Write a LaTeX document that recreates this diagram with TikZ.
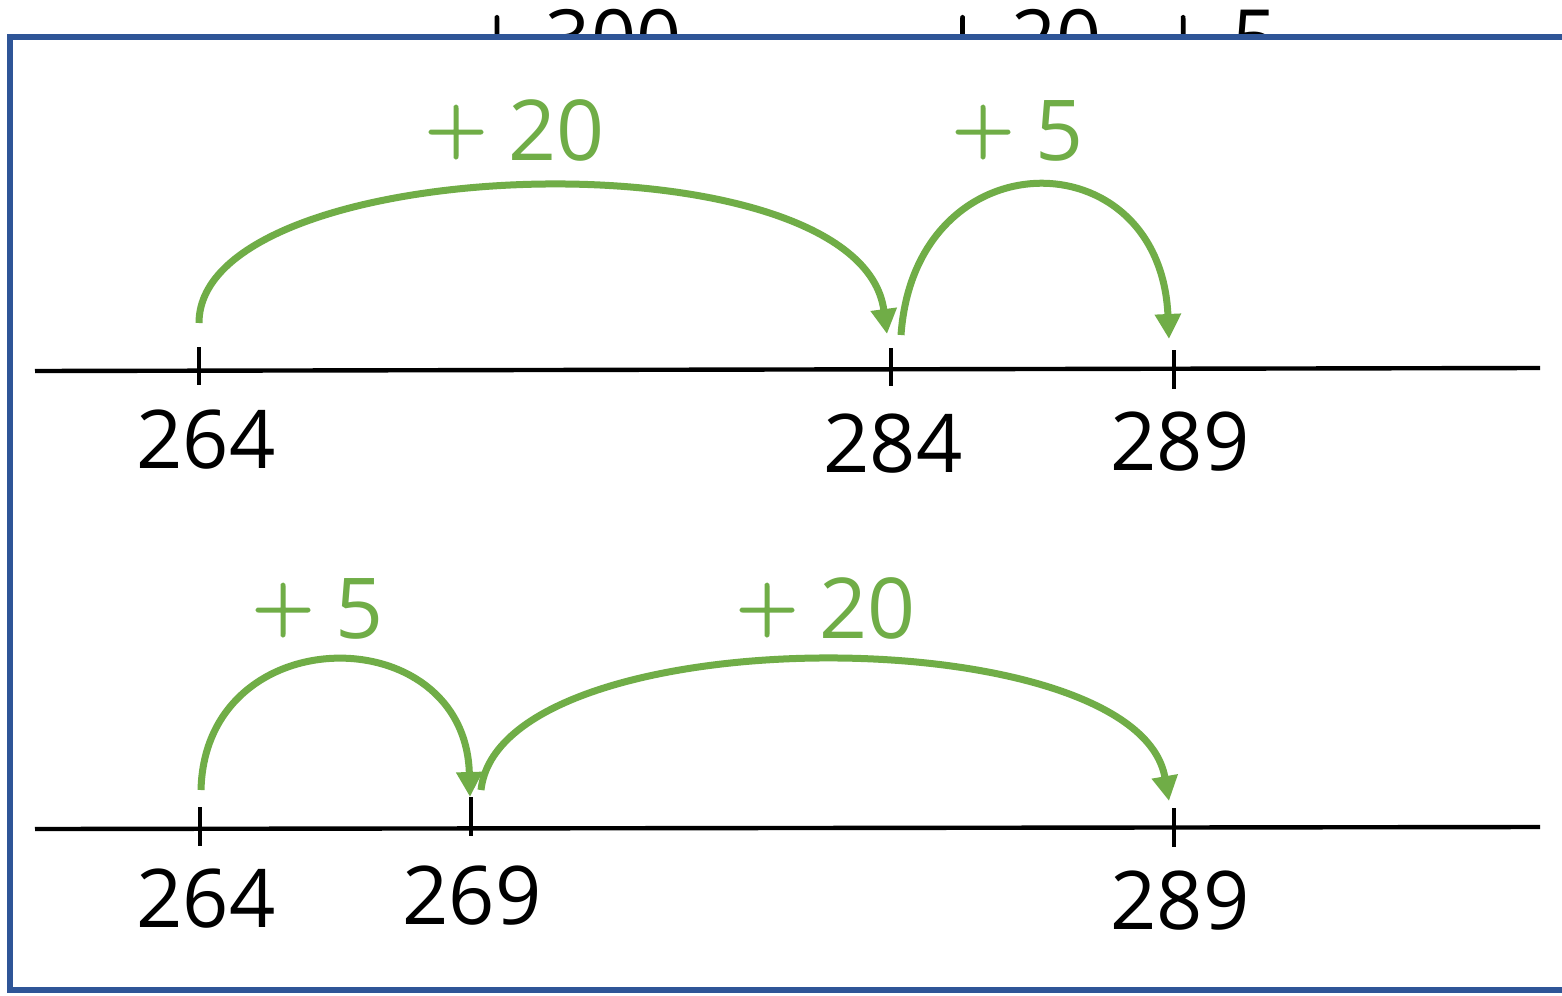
\documentclass[tikz,border=0pt]{standalone}
\usepackage{fontspec}
\setmainfont{Open Sans}
\newfontfamily\lmplusfont[AutoFakeBold=2.5]{Latin Modern Roman}
\usetikzlibrary{arrows.meta}
\definecolor{arcgreen}{HTML}{70AD47}
\definecolor{frameblue}{HTML}{2F5597}
\newcommand{\bigplus}{{\lmplusfont\bfseries\raisebox{0.083em}{+}}}
\begin{document}
\begin{tikzpicture}[x=0.5pt,y=-0.5pt,
  numline/.style={line width=2.2pt,black},
  tickmark/.style={line width=2.2pt,black},
  jump/.style={line width=3.5pt,arcgreen,-{Triangle[length=12.5pt,width=12.5pt]}},
  jumplabel/.style={text=arcgreen,font=\fontsize{42}{50}\selectfont,anchor=base,inner sep=0pt},
  numlabel/.style={font=\fontsize{40.5}{48}\selectfont,anchor=base,inner sep=0pt},
  toplabel/.style={font=\fontsize{39.5}{47}\selectfont,anchor=base,inner sep=0pt},
  frame/.style={frameblue,line width=3.2pt}]
\clip (0,0) rectangle (1562,995);
\fill[white] (0,0) rectangle (1562,995);
% text above the frame, cut off by it as in the reference
\begin{scope}
  \clip (0,0) rectangle (1562,37);
  \node[toplabel] (t300) at (575,67) {\bigplus{} 300};
  \node[toplabel] (t20) at (1018,67) {\bigplus{} 20};
  \node[toplabel] (t5) at (1216,67) {\bigplus{} 5};
\end{scope}
% ---------- upper number line ----------
\coordinate (A1) at (35,371);
\coordinate (A2) at (1540,368);
\draw[numline] (A1) -- (A2);
\coordinate (a264t) at (199,347); \coordinate (a264b) at (199,385);
\coordinate (a284t) at (891,348); \coordinate (a284b) at (891,386);
\coordinate (a289t) at (1174,350); \coordinate (a289b) at (1174,389);
\draw[tickmark] (a264t) -- (a264b);
\draw[tickmark] (a284t) -- (a284b);
\draw[tickmark] (a289t) -- (a289b);
\node[numlabel] (n264a) at (206,468) {264};
\node[numlabel] (n284a) at (893,472) {284};
\node[numlabel] (n289a) at (1180,470) {289};
\coordinate (s1) at (199,323); \coordinate (e1) at (887,334);
\coordinate (s2) at (901,335); \coordinate (e2) at (1169,339);
\draw[jump] (s1) .. controls (199,150) and (860,130) .. (e1);
\draw[jump] (s2) .. controls (915,136) and (1160,136) .. (e2);
\node[jumplabel] (g20a) at (515,160) {\bigplus{} 20};
\node[jumplabel] (g5a) at (1018,160) {\bigplus{} 5};
% ---------- lower number line ----------
\coordinate (B1) at (35,829);
\coordinate (B2) at (1540,827);
\draw[numline] (B1) -- (B2);
\coordinate (b264t) at (200,807); \coordinate (b264b) at (200,846);
\coordinate (b269t) at (471,797); \coordinate (b269b) at (471,836);
\coordinate (b289t) at (1174,808); \coordinate (b289b) at (1174,847);
\draw[tickmark] (b264t) -- (b264b);
\draw[tickmark] (b269t) -- (b269b);
\draw[tickmark] (b289t) -- (b289b);
\node[numlabel] (n264b) at (206,927) {264};
\node[numlabel] (n269b) at (472,924) {269};
\node[numlabel] (n289b) at (1180,929) {289};
\coordinate (s3) at (201,790); \coordinate (e3) at (470,797);
\coordinate (s4) at (481,790); \coordinate (e4) at (1169,801);
\draw[jump] (s3) .. controls (205,617) and (465,617) .. (e3);
\draw[jump] (s4) .. controls (500,616) and (1137,616) .. (e4);
\node[jumplabel] (g5b) at (318,638) {\bigplus{} 5};
\node[jumplabel] (g20b) at (826,638) {\bigplus{} 20};
% ---------- frame ----------
\draw[frame] (10,37) rectangle (1620,990);
\end{tikzpicture}
\end{document}
